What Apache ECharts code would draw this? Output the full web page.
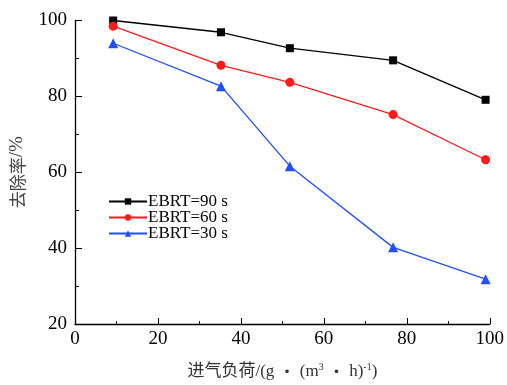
<!DOCTYPE html>
<html><head><meta charset="utf-8">
<script src="https://cdn.jsdelivr.net/npm/echarts@6/dist/echarts.min.js"></script>
<style>html,body{margin:0;padding:0;background:#fff}#c{width:507px;height:385px}</style>
</head><body><div id="c"></div>
<script>
const loads = [9.2, 35.2, 51.8, 76.7, 99.0];
const ebrt90 = [100.0, 96.9, 92.7, 89.5, 79.1];
const ebrt60 = [98.5, 88.2, 83.7, 75.2, 63.3];
const ebrt30 = [94.0, 82.7, 61.6, 40.2, 31.8];
const seriesNames = ['EBRT=90 s', 'EBRT=60 s', 'EBRT=30 s'];
const xTicks = [0, 20, 40, 60, 80, 100];
const yTicks = [20, 40, 60, 80, 100];

const serif = 'Liberation Serif';
const mixed = '"Liberation Serif", "Noto Sans CJK SC", serif';
const chart = echarts.init(document.getElementById('c'));
function pts(ys){ return loads.map((x,i)=>[x, ys[i]]); }
const mk = (name, data, color, symbol, size) => ({
  name, type:'line', data: pts(data), symbol, symbolSize: size,
  lineStyle:{color, width:1.3}, itemStyle:{color}, animation:false
});
const legendTops = [193, 209, 225];
chart.setOption({
  animation:false,
  textStyle:{fontFamily:serif},
  grid:{left:75, right:17, top:20.5, bottom:60},
  legend: seriesNames.map((n, i) => ({
    left:108, top:legendTops[i], itemWidth:38, itemHeight:8, padding:0,
    textStyle:{fontFamily:serif, fontSize:17, color:'#000', padding:[0,0,0,-4]},
    data:[n]
  })),
  xAxis:{
    type:'value', min:0, max:100, interval:20,
    axisLine:{lineStyle:{color:'#000', width:1.3}},
    axisTick:{inside:true, length:6, lineStyle:{color:'#000'}},
    minorTick:{show:true, splitNumber:2, length:3, lineStyle:{color:'#000'}},
    splitLine:{show:false},
    axisLabel:{fontFamily:serif, fontSize:19, color:'#000', margin:6,
      formatter: v => xTicks.includes(v) ? String(v) : ''},
    name:'{a|进气负荷/(g }{d|・}{a| (m}{s|3}{a| }{d|・}{a| h)}{s|-1}{a|)}',
    nameLocation:'middle', nameGap:38,
    nameTextStyle:{rich:{
      a:{fontFamily:mixed, fontSize:17, color:'#333'},
      d:{fontFamily:'Noto Sans CJK SC', fontSize:17, color:'#333'},
      s:{fontFamily:serif, fontSize:10, color:'#333', padding:[0,0,9,0]}
    }}
  },
  yAxis:{
    type:'value', min:20, max:100, interval:20,
    axisLine:{lineStyle:{color:'#000', width:1.3}},
    axisTick:{inside:true, length:7, lineStyle:{color:'#000'}},
    minorTick:{show:true, splitNumber:2, length:4, lineStyle:{color:'#000'}},
    splitLine:{show:false},
    axisLabel:{fontFamily:serif, fontSize:19, color:'#000', margin:8,
      formatter: v => yTicks.includes(v) ? String(v) : ''},
    name:'{a|去除率}{b|/%}', nameLocation:'middle', nameGap:48, nameRotate:90,
    nameTextStyle:{rich:{
      a:{fontFamily:'Noto Sans CJK SC', fontSize:17, color:'#444'},
      b:{fontFamily:serif, fontSize:19, color:'#444'}
    }}
  },
  series:[
    mk(seriesNames[0], ebrt90, '#000000', 'rect', 8),
    mk(seriesNames[1], ebrt60, '#ff1a1a', 'circle', 9),
    mk(seriesNames[2], ebrt30, '#1f4fff', 'triangle', 10)
  ]
});
</script></body></html>
